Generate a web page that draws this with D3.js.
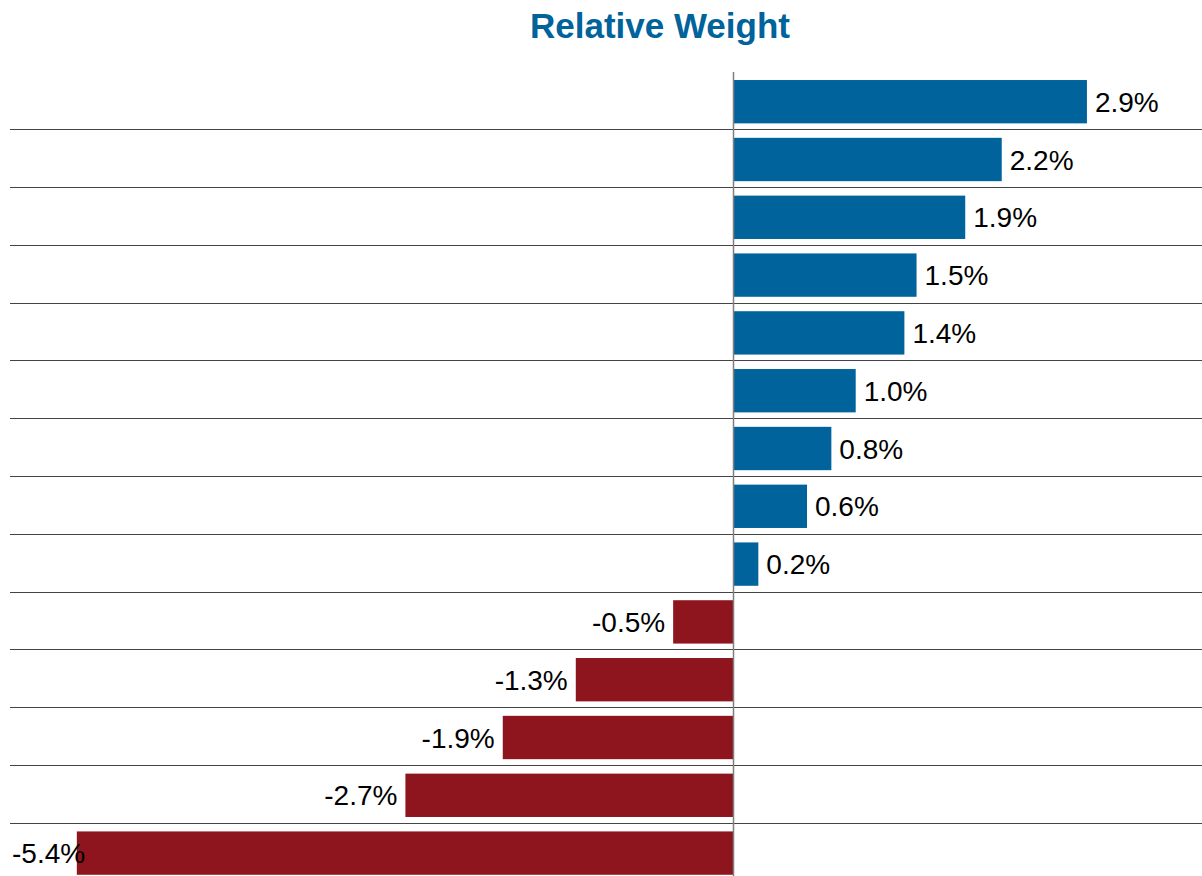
<!DOCTYPE html>
<html>
<head>
<meta charset="utf-8">
<script src="https://cdn.jsdelivr.net/npm/d3@7/dist/d3.min.js"></script>
<style>
  html, body { margin: 0; padding: 0; background: #fff; }
  svg { display: block; font-family: "Liberation Sans", Arial, sans-serif; }
</style>
</head>
<body>
<svg id="chart" width="1202" height="876"></svg>
<script>
// Relative weight per row, in percent (top to bottom)
const rows = ["r1", "r2", "r3", "r4", "r5", "r6", "r7", "r8", "r9", "r10", "r11", "r12", "r13", "r14"];
const values = [2.9, 2.2, 1.9, 1.5, 1.4, 1.0, 0.8, 0.6, 0.2, -0.5, -1.3, -1.9, -2.7, -5.4];
const title = "Relative Weight";

const W = 1202, H = 876;
const posColor = "#00639b";
const negColor = "#8e141d";

const svg = d3.select("#chart");

const x = d3.scaleLinear().domain([-6, 3]).range([734 - 6 * 121.7, 734 + 3 * 121.7]);
const y = d3.scaleBand().domain(rows).range([72.8, 72.8 + 14 * 57.8])
  .paddingInner(0.25).paddingOuter(0.125);

const data = rows.map((r, i) => ({ row: r, value: values[i] }));

// Title
svg.append("text")
  .attr("x", 660).attr("y", 38)
  .attr("text-anchor", "middle")
  .attr("font-size", 35).attr("font-weight", "bold")
  .attr("fill", posColor)
  .text(title);

// Horizontal separators between rows
const sep = rows.slice(0, -1).map(r => Math.floor(y(r) + y.bandwidth() + y.step() * y.paddingInner() / 2) - 0.5);
svg.append("g").selectAll("line").data(sep).join("line")
  .attr("x1", 10).attr("x2", W)
  .attr("y1", d => d).attr("y2", d => d)
  .attr("stroke", "#444").attr("stroke-width", 1);

// Bars
svg.append("g").selectAll("rect").data(data).join("rect")
  .attr("x", d => x(Math.min(0, d.value)))
  .attr("width", d => Math.abs(x(d.value) - x(0)))
  .attr("y", d => y(d.row))
  .attr("height", y.bandwidth())
  .attr("fill", d => d.value >= 0 ? posColor : negColor);

// Zero axis
svg.append("line")
  .attr("x1", x(0) - 0.5).attr("x2", x(0) - 0.5)
  .attr("y1", 72).attr("y2", H)
  .attr("stroke", "#7f7f7f").attr("stroke-width", 1.5);

// Value labels (plain hyphen for negatives)
const fmt = d => d.toFixed(1) + "%";
svg.append("g").selectAll("text").data(data).join("text")
  .attr("y", d => y(d.row) + y.bandwidth() / 2)
  .attr("dy", "0.36em")
  .attr("font-size", 28)
  .attr("fill", "#000")
  .text(d => fmt(d.value))
  .each(function (d) {
    const t = d3.select(this);
    if (d.value >= 0) {
      t.attr("x", x(d.value) + 8).attr("text-anchor", "start");
    } else {
      const w = this.getComputedTextLength();
      const end = Math.max(x(d.value) - 8, 12 + w);
      t.attr("x", end).attr("text-anchor", "end");
    }
  });
</script>
</body>
</html>
